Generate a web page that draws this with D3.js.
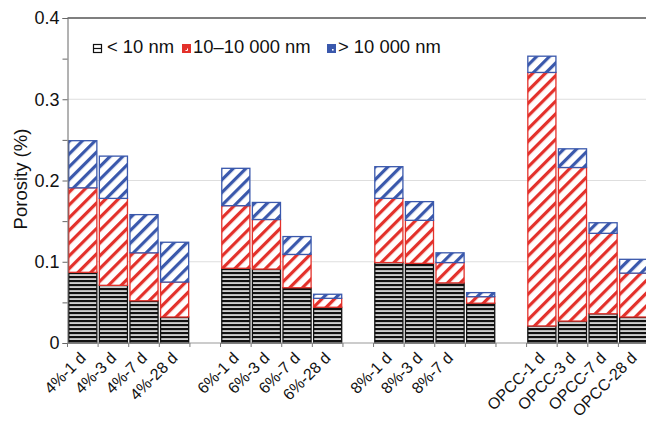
<!DOCTYPE html>
<html>
<head>
<meta charset="utf-8">
<script src="https://cdn.jsdelivr.net/npm/d3@7"></script>
<style>
  body { margin: 0; background: #fff; }
  svg { display: block; font-family: "Liberation Sans", Arial, sans-serif; }
</style>
</head>
<body>
<figure style="margin:0"></figure>
<script>
// bar categories (x axis), in order; groups are separated by an empty slot
const categories = ["4%-1 d", "4%-3 d", "4%-7 d", "4%-28 d",
                    "6%-1 d", "6%-3 d", "6%-7 d", "6%-28 d",
                    "8%-1 d", "8%-3 d", "8%-7 d", "8%-28 d",
                    "OPCC-1 d", "OPCC-3 d", "OPCC-7 d", "OPCC-28 d"];
// tick labels as printed (the 8%-28 d bar has no label in the figure)
const tickLabels = ["4%-1 d", "4%-3 d", "4%-7 d", "4%-28 d",
                    "6%-1 d", "6%-3 d", "6%-7 d", "6%-28 d",
                    "8%-1 d", "8%-3 d", "8%-7 d", "",
                    "OPCC-1 d", "OPCC-3 d", "OPCC-7 d", "OPCC-28 d"];
// porosity of each pore class
const small  = [0.087, 0.071, 0.052, 0.032, 0.092, 0.091, 0.068, 0.044, 0.099, 0.098, 0.074, 0.049, 0.021, 0.027, 0.036, 0.032]; // < 10 nm
const medium = [0.104, 0.107, 0.059, 0.043, 0.077, 0.061, 0.041, 0.011, 0.079, 0.053, 0.025, 0.008, 0.312, 0.189, 0.099, 0.054]; // 10–10 000 nm
const large  = [0.058, 0.052, 0.047, 0.049, 0.046, 0.021, 0.022, 0.005, 0.039, 0.023, 0.012, 0.005, 0.020, 0.023, 0.013, 0.017]; // > 10 000 nm
const seriesNames = ["< 10 nm", "10\u201310 000 nm", "> 10 000 nm"];
const yTicks = [0, 0.1, 0.2, 0.3, 0.4];

const width = 646, height = 423;
const lpad = 67.5, rEdge = 649, tpad = 18, baseY = 343;
const red = "#e3312b", blue = "#3a58ac";

const svg = d3.select("figure").append("svg")
    .attr("width", width).attr("height", height);

// patterns
const defs = svg.append("defs");
const pBlack = defs.append("pattern").attr("id", "pBlack")
    .attr("patternUnits", "userSpaceOnUse").attr("width", 8).attr("height", 4);
pBlack.append("rect").attr("width", 8).attr("height", 4).attr("fill", "#111");
pBlack.append("rect").attr("y", 2.3).attr("width", 8).attr("height", 1.5).attr("fill", "#fff");

function diag(id, color) {
  const p = defs.append("pattern").attr("id", id)
      .attr("patternUnits", "userSpaceOnUse").attr("width", 9).attr("height", 9)
      .attr("patternTransform", "rotate(45)");
  p.append("rect").attr("width", 9).attr("height", 9).attr("fill", "#fff");
  p.append("rect").attr("width", 3.2).attr("height", 9).attr("fill", color);
}
diag("pRed", red);
diag("pBlue", blue);

// slots: categories with an empty slot between groups
const slots = [];
categories.forEach((c, i) => {
  if (i > 0 && i % 4 === 0) slots.push("gap" + i);
  slots.push(c);
});

const x = d3.scaleBand().domain(slots).range([lpad, rEdge]).paddingInner(0).paddingOuter(0);
const y = d3.scaleLinear().domain([0, 0.4]).range([baseY, tpad]);

// gridlines
svg.append("g").selectAll("line").data(yTicks.filter(d => d > 0 && d < 0.4)).join("line")
    .attr("x1", lpad).attr("x2", width).attr("y1", d => y(d)).attr("y2", d => y(d))
    .attr("stroke", "#dedede").attr("stroke-width", 1);

// top frame
svg.append("line").attr("x1", lpad).attr("x2", width).attr("y1", tpad).attr("y2", tpad)
    .attr("stroke", "#555").attr("stroke-width", 1.6);

// stacked bars
const data = categories.map((c, i) => ({cat: c, vals: [small[i], medium[i], large[i]]}));
const fills = ["url(#pBlack)", "url(#pRed)", "url(#pBlue)"];
const strokes = ["#111", red, blue];
const bw = x.bandwidth() - 1.5;

const bars = svg.append("g").selectAll("g").data(data).join("g")
    .attr("transform", d => "translate(" + (x(d.cat) + 0.75) + ",0)");
bars.each(function(d) {
  let base = 0;
  d.vals.forEach((v, k) => {
    d3.select(this).append("rect")
        .attr("x", 0.5).attr("width", bw - 1)
        .attr("y", y(base + v)).attr("height", y(base) - y(base + v))
        .attr("fill", fills[k]).attr("stroke", strokes[k]).attr("stroke-width", 1.3);
    base += v;
  });
});

// y axis
const yAxis = svg.append("g").attr("transform", "translate(" + lpad + ",0)")
    .call(d3.axisLeft(y).tickValues(d3.range(0, 0.401, 0.05)).tickSize(5).tickPadding(3)
      .tickFormat(d => Math.abs(d * 10 - Math.round(d * 10)) > 1e-6 ? "" : (d === 0 ? "0" : d3.format(".1f")(d))));
yAxis.select(".domain").attr("stroke", "#666");
yAxis.selectAll(".tick line").attr("stroke", "#666");
yAxis.selectAll("text").attr("font-size", 18).attr("fill", "#111").attr("font-family", "Liberation Sans, Arial, sans-serif");

// x axis baseline and slot ticks
const xg = svg.append("g");
xg.append("line").attr("x1", lpad).attr("x2", width).attr("y1", baseY).attr("y2", baseY)
    .attr("stroke", "#999");
xg.selectAll("line.tk").data(slots.concat(["end"])).join("line").attr("class", "tk")
    .attr("x1", d => d === "end" ? rEdge : x(d)).attr("x2", d => d === "end" ? rEdge : x(d))
    .attr("y1", baseY).attr("y2", baseY + 4).attr("stroke", "#777");
xg.selectAll("text").data(categories).join("text")
    .attr("transform", d => "translate(" + (x(d) + x.bandwidth() / 2 + 4) + "," + (baseY + 16) + ") rotate(-45)")
    .attr("text-anchor", "end").attr("font-size", 16).attr("fill", "#111")
    .text((d, i) => tickLabels[i]);

// y title
svg.append("text").attr("transform", "translate(27,179) rotate(-90)")
    .attr("text-anchor", "middle").attr("font-size", 18.5).attr("fill", "#111")
    .text("Porosity (%)");

// legend
const legX = [93, 182, 327];
const leg = svg.append("g");
seriesNames.forEach((name, k) => {
  const g = leg.append("g").attr("transform", "translate(" + legX[k] + ",44)");
  if (k === 0) {
    g.append("rect").attr("x", 0.5).attr("y", 0.5).attr("width", 8).attr("height", 8)
        .attr("fill", "#fff").attr("stroke", "#111").attr("stroke-width", 1.2);
    g.append("line").attr("x1", 0.5).attr("x2", 8.5).attr("y1", 4.5).attr("y2", 4.5)
        .attr("stroke", "#111").attr("stroke-width", 1.2);
  } else {
    g.append("rect").attr("width", 9).attr("height", 9).attr("fill", strokes[k]);
    if (k === 1) {
      g.append("path").attr("d", "M5.5,4.5 V6.5 H3.5").attr("fill", "none").attr("stroke", "#fff").attr("stroke-width", 1);
    } else {
      g.append("rect").attr("x", 5).attr("y", 5).attr("width", 1.6).attr("height", 1.6).attr("fill", "#fff");
    }
  }
  g.append("text").attr("x", k === 0 ? 14 : 11).attr("y", 9)
      .attr("font-size", 18.4).attr("fill", "#111").text(name);
});
</script>
</body>
</html>
